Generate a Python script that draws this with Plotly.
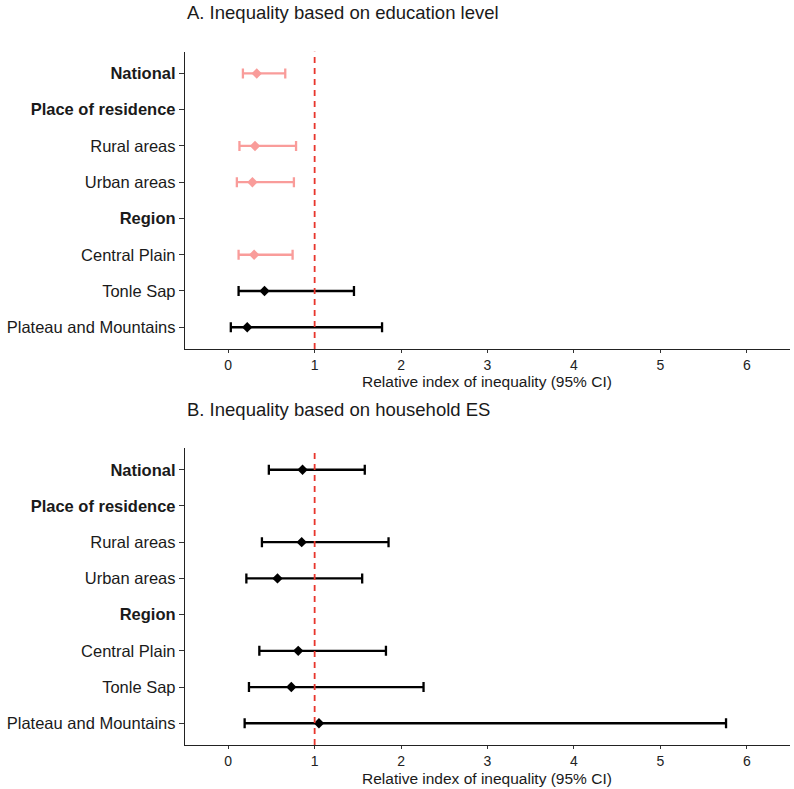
import plotly.graph_objects as go

categories = ["National", "Place of residence", "Rural areas", "Urban areas",
              "Region", "Central Plain", "Tonle Sap", "Plateau and Mountains"]
bold_labels = ["National", "Place of residence", "Region"]

# Panel A: education level
a_cat = ["National", "Rural areas", "Urban areas", "Central Plain", "Tonle Sap", "Plateau and Mountains"]
a_est = [0.33, 0.31, 0.28, 0.30, 0.42, 0.22]
a_low = [0.17, 0.13, 0.10, 0.12, 0.12, 0.03]
a_high = [0.66, 0.785, 0.76, 0.745, 1.455, 1.78]

# Panel B: household ES
b_cat = ["National", "Rural areas", "Urban areas", "Central Plain", "Tonle Sap", "Plateau and Mountains"]
b_est = [0.86, 0.85, 0.57, 0.81, 0.73, 1.05]
b_low = [0.47, 0.39, 0.21, 0.36, 0.24, 0.19]
b_high = [1.58, 1.855, 1.55, 1.825, 2.26, 5.76]

x_ticks = [0, 1, 2, 3, 4, 5, 6]
titles = ["A. Inequality based on education level", "B. Inequality based on household ES"]
x_title = "Relative index of inequality (95% CI)"

PINK = "#F99C9A"
BLACK = "#000000"
RED = "#E8352C"
W, H = 794, 789

fig = go.Figure()

panels = [(a_cat, a_est, a_low, a_high, "x", "y"), (b_cat, b_est, b_low, b_high, "x2", "y2")]
for cats, est, low, high, xa, ya in panels:
    for sig in (True, False):
        idx = [i for i in range(len(cats)) if (high[i] < 1) == sig]
        if not idx:
            continue
        col = PINK if sig else BLACK
        fig.add_trace(go.Scatter(
            x=[est[i] for i in idx], y=[cats[i] for i in idx],
            mode="markers",
            marker=dict(symbol="diamond", size=8, color=col),
            error_x=dict(type="data", symmetric=False,
                         array=[high[i] - est[i] for i in idx],
                         arrayminus=[est[i] - low[i] for i in idx],
                         color=col, thickness=2.3, width=5),
            xaxis=xa, yaxis=ya, showlegend=False, hoverinfo="skip"))

ticktext = [f"<b>{c}</b>" if c in bold_labels else c for c in categories]
cat_order = list(reversed(categories))

x0, x1 = 185 / W, 790 / W
domA = [1 - 349 / H, 1 - 51.7 / H]
domB = [1 - 745 / H, 1 - 448 / H]

xcommon = dict(range=[-0.5, 6.5], tickvals=x_ticks, ticks="outside", ticklen=3,
               tickcolor="#333333", tickwidth=1.2, showline=True, linecolor="#222222",
               linewidth=1.3, showgrid=False, zeroline=False, automargin=False,
               tickfont=dict(size=14, color="#222222", family="Liberation Sans"))
ycommon = dict(type="category", categoryorder="array", categoryarray=cat_order,
               tickvals=categories, ticktext=ticktext, range=[-0.6, 7.6],
               ticks="outside", ticklen=5, tickcolor="#333333", tickwidth=1.2,
               showline=True, linecolor="#222222", linewidth=1.3, showgrid=False,
               zeroline=False, automargin=False,
               tickfont=dict(size=16.5, color="#1a1a1a", family="Liberation Sans"))

fig.update_layout(
    width=W, height=H, margin=dict(l=0, r=0, t=0, b=0),
    paper_bgcolor="white", plot_bgcolor="white",
    font=dict(family="Liberation Sans", color="#1a1a1a"),
    xaxis=dict(domain=[x0, x1], anchor="y", **xcommon),
    yaxis=dict(domain=domA, anchor="x", **ycommon),
    xaxis2=dict(domain=[x0, x1], anchor="y2", **xcommon),
    yaxis2=dict(domain=domB, anchor="x2", **ycommon),
)

for xa, ya in (("x", "y"), ("x2", "y2")):
    fig.add_shape(type="line", xref=xa, yref=f"{ya} domain", x0=1, x1=1, y0=0, y1=1,
                  line=dict(color=RED, width=1.8, dash="6px,5px"))

# titles and axis titles
title_y = [12.5, 409]
xt_y = [381, 778]
for t, ty, xy in zip(titles, title_y, xt_y):
    fig.add_annotation(text=t, xref="paper", yref="paper", x=185 / W, y=1 - ty / H,
                       xanchor="left", yanchor="middle", showarrow=False,
                       font=dict(size=18.5, color="#1a1a1a", family="Liberation Sans"))
    fig.add_annotation(text=x_title, xref="paper", yref="paper", x=(x0 + x1) / 2,
                       y=1 - xy / H, xanchor="center", yanchor="middle", showarrow=False,
                       font=dict(size=15.5, color="#1a1a1a", family="Liberation Sans"))

fig.write_html("out.html")
